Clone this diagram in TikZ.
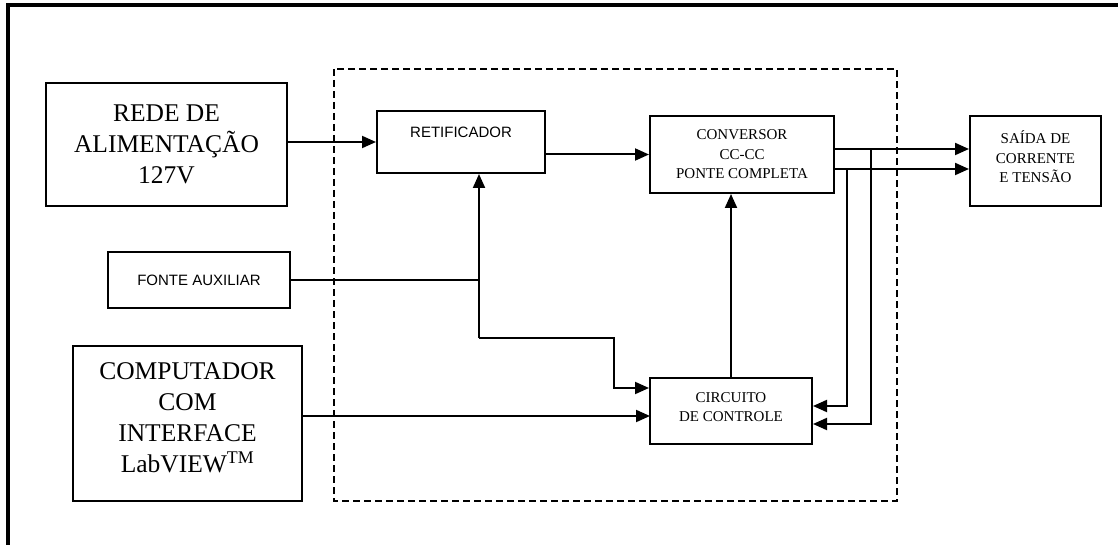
\documentclass[tikz,border=0pt]{standalone}
\usepackage{fontspec}
\setmainfont{Liberation Serif}
\newfontfamily\arialfont{Liberation Sans}
\usepackage{tikz}
\usetikzlibrary{arrows.meta,positioning}
\tikzset{
    block/.style = {rectangle, draw=black, line width=2pt, inner sep=0pt, align=center, text centered},
    bigblock/.style = {block, font=\fontsize{25.5}{31}\selectfont},
    smallblock/.style = {block, font=\fontsize{15}{19.5}\selectfont},
    sansblock/.style = {block, font=\arialfont\fontsize{15}{18}\selectfont},
    wire/.style = {line width=2pt},
    frame/.style = {line width=3.5pt},
    group/.style = {line width=1.6pt, dash pattern=on 7pt off 4pt}
}

\begin{document}
\begin{tikzpicture}[x=1pt, y=-1pt, >={Triangle[length=14pt, width=12pt]}]
    \useasboundingbox (0,0) rectangle (1118,545);
    \draw[frame] (8,545) -- (8,5) -- (1118,5);
    \draw[group] (334,69) rectangle (897,501);

    \node [bigblock, minimum width=241pt, minimum height=123pt] (rede) at (166.5,144.5) {REDE DE\\ALIMENTAÇÃO\\127V};
    \node [sansblock, minimum width=168pt, minimum height=62pt, text depth=20pt] (retificador) at (461,142) {RETIFICADOR};
    \node [smallblock, minimum width=184pt, minimum height=77pt] (conversor) at (742,154.5) {CONVERSOR\\CC-CC\\PONTE COMPLETA};
    \node [smallblock, minimum width=131pt, minimum height=90pt, text depth=8pt] (saida) at (1035.5,161) {SAÍDA DE\\CORRENTE\\E TENSÃO};
    \node [sansblock, minimum width=182pt, minimum height=56pt] (fonte) at (199,280) {FONTE AUXILIAR};
    \node [bigblock, minimum width=229pt, minimum height=155pt, text depth=11pt] (computador) at (187.5,423.5) {COMPUTADOR\\COM\\INTERFACE\\LabVIEW\textsuperscript{TM}};
    \node [smallblock, minimum width=162pt, minimum height=66pt, text depth=8pt] (controle) at (731,411) {CIRCUITO\\DE CONTROLE};

    \coordinate (saida1) at (834,149);
    \coordinate (saida2) at (834,169);
    \coordinate (retorno1) at (871,424);
    \coordinate (retorno2) at (847,406);
    \coordinate (no) at (479,338);
    \coordinate (desvio) at (614,388);
    \coordinate (entrada) at (650,416);

    \draw [wire, ->] (retificador.west -| rede.east) -- (retificador.west);
    \draw [wire, ->] (retificador.east |- conversor.west) -- (conversor.west);
    \draw [wire, ->] (saida1) -- (saida1 -| saida.west);
    \draw [wire, ->] (saida2) -- (saida2 -| saida.west);
    \draw [wire, ->] (saida1 -| retorno1) -- (retorno1) -- (retorno1 -| controle.east);
    \draw [wire, ->] (saida2 -| retorno2) -- (retorno2) -- (retorno2 -| controle.east);
    \draw [wire] (fonte.east) -- (fonte.east -| no);
    \draw [wire, ->] (no) -- (no |- retificador.south);
    \draw [wire, ->] (no) -| (desvio) -- (desvio -| controle.west);
    \draw [wire, ->] (computador.east |- entrada) -- (entrada);
    \draw [wire, ->] (controle.north) -- (controle.north |- conversor.south);
\end{tikzpicture}
\end{document}
